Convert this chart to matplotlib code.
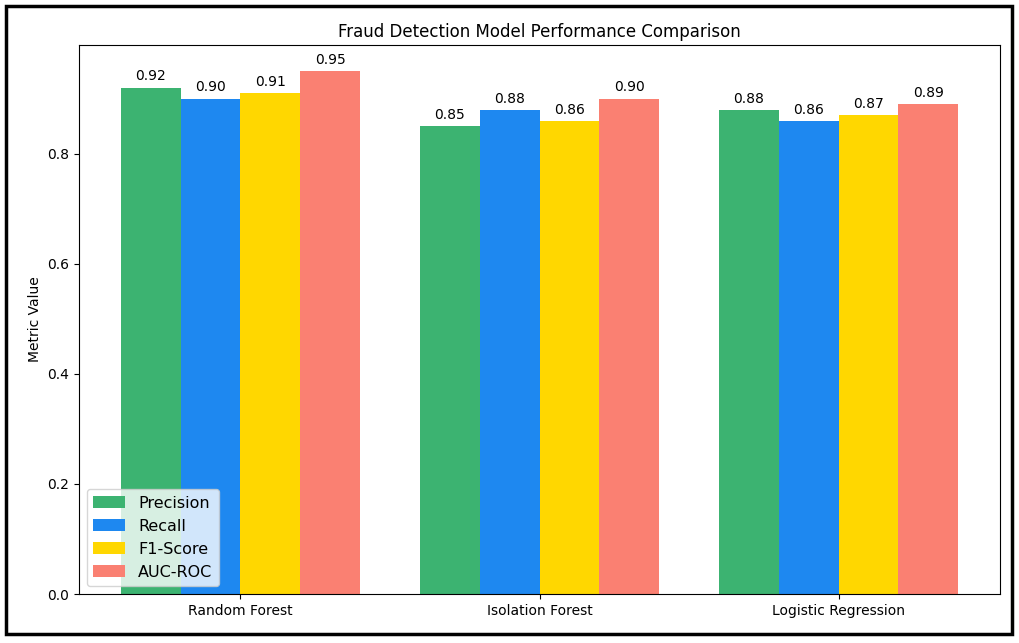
import matplotlib
matplotlib.use("Agg")
import matplotlib.pyplot as plt
from matplotlib.patches import Rectangle
import numpy as np

models = ["Random Forest", "Isolation Forest", "Logistic Regression"]
metrics = ["Precision", "Recall", "F1-Score", "AUC-ROC"]
precision = [0.92, 0.85, 0.88]
recall = [0.90, 0.88, 0.86]
f1_score = [0.91, 0.86, 0.87]
auc_roc = [0.95, 0.90, 0.89]
colors = ["#3cb371", "#1e88f0", "#ffd700", "#fa8072"]

series = [precision, recall, f1_score, auc_roc]

fig = plt.figure(figsize=(10.2, 6.43), dpi=100)
ax = fig.add_axes([79/1020, 1 - 594/643, (1000-79)/1020, (594-45)/643])
x = np.arange(len(models))
w = 0.2
for i, (name, vals, c) in enumerate(zip(metrics, series, colors)):
    bars = ax.bar(x + (i - 1.5) * w, vals, w, label=name, color=c)
    ax.bar_label(bars, labels=[f"{v:.2f}" for v in vals], padding=3, fontsize=10)

ax.set_xticks(x)
ax.set_xticklabels(models)
ax.set_ylabel("Metric Value")
ax.set_title("Fraud Detection Model Performance Comparison", fontsize=12)
ax.legend(loc="lower left", fontsize=11.5)

fig.patches.append(Rectangle((6/1020, 1 - 634/643), (1012-6)/1020, (634-6)/643,
                             transform=fig.transFigure, fill=False,
                             edgecolor="black", linewidth=2.5))
fig.savefig("out.png", dpi=100)
